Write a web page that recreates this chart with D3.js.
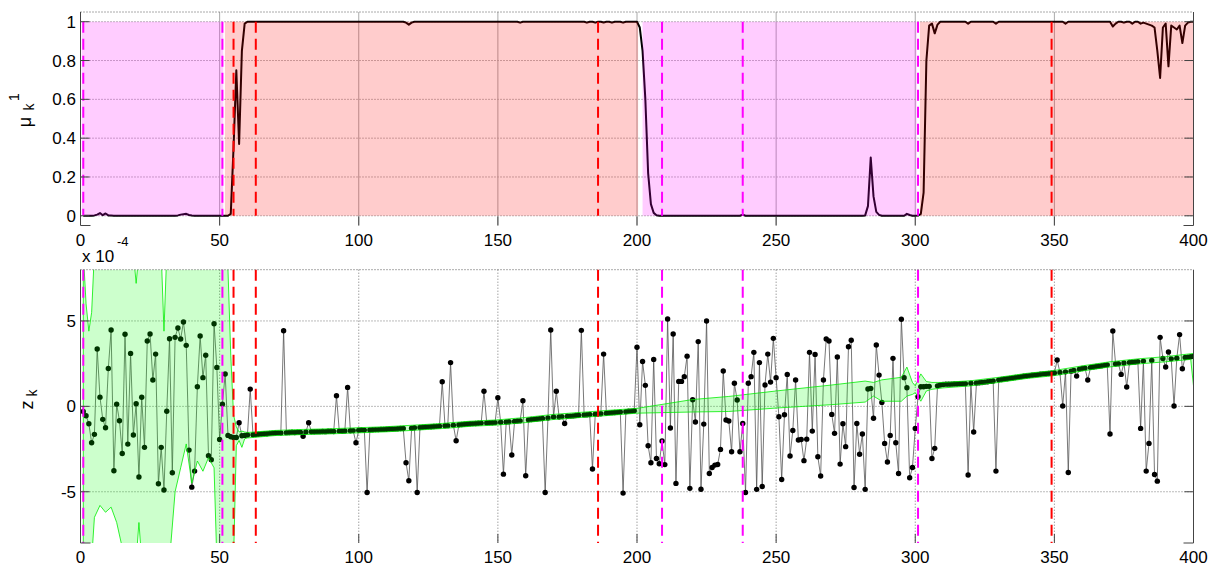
<!DOCTYPE html>
<html>
<head>
<meta charset="utf-8">
<script src="https://cdn.jsdelivr.net/npm/d3@7"></script>
<style>
  body { margin: 0; background: #fff; }
  text { font-family: "Liberation Sans", Arial, sans-serif; fill: #000; }
</style>
</head>
<body>
<svg id="chart" width="1211" height="568"></svg>
<script>
// ---- data -------------------------------------------------------------
const xTicks = [0, 50, 100, 150, 200, 250, 300, 350, 400];
const muTicks = [0, 0.2, 0.4, 0.6, 0.8, 1];
const zTicks = [-5, 0, 5];

// posterior probability of model 1, k = 1..400 (20 per row)
const mu = [
  0,0,0,0,0.002,0.006,0.014,0.003,0.012,0.002, 0.001,0,0,0,0,0,0,0,0,0,
  0,0,0,0,0,0,0,0,0,0, 0,0,0,0,0.002,0.006,0.008,0.01,0.004,0.001,
  0,0,0,0,0,0,0,0,0,0, 0,0,0,0.01,0.35,0.75,0.37,0.85,0.99,1,
  1,1,1,1,1,1,1,1,1,1, 1,1,1,1,1,1,1,1,1,1,
  1,1,1,1,1,1,1,1,1,1, 1,1,1,1,1,1,1,1,1,1,
  1,1,1,1,1,1,1,1,1,1, 1,1,1,1,1,1,0.995,0.985,0.995,1,
  1,1,1,1,1,1,1,1,1,1, 1,1,1,1,1,1,1,1,1,1,
  1,1,1,1,1,1,1,1,1,1, 1,1,1,1,1,1,1,0.995,1,1,
  1,1,1,1,1,1,1,1,1,1, 1,1,1,1,1,1,1,1,1,1,
  1,0.995,1,1,0.995,1,1,0.996,1,1, 0.995,1,1,1,0.995,1,1,1,1,1,
  0.97,0.85,0.6,0.22,0.06,0.015,0.003,0,0,0, 0,0,0,0,0,0,0,0,0,0,
  0,0,0,0,0,0,0,0,0,0, 0,0,0,0,0,0,0,0.006,0,0,
  0,0,0,0,0,0,0,0,0,0, 0,0,0,0,0,0,0,0,0,0,
  0,0,0,0,0,0,0,0,0,0, 0,0,0,0,0,0,0,0,0,0,
  0,0.002,0.05,0.30,0.10,0.02,0.005,0,0,0, 0,0,0,0,0,0,0.01,0.004,0,0,
  0.001,0.01,0.12,0.8,0.98,0.99,0.94,0.985,1,1, 1,1,1,1,1,1,1,1,0.99,1,
  1,1,1,1,1,1,1,1,0.99,1, 1,1,1,1,1,1,1,1,1,1,
  1,1,1,1,1,1,1,1,1,1, 1,1,1,0.99,1,1,1,1,1,1,
  1,1,1,1,1,1,1,1,1,1, 0.975,0.99,1,1,0.995,1,1,0.99,1,1,
  0.99,0.995,0.99,0.985,0.98,0.97,0.85,0.71,0.97,0.99, 0.77,0.98,0.97,0.96,0.98,0.89,0.98,0.995,1,1
];

// measurements z_k (units of 1e-4), k = 1..400
const zE4 = [
  -0.30,-0.55,-1.02,-2.13,-1.64, 3.36, 0.54,-0.76,-1.25, 2.22,
   4.47,-3.77, 0.13,-0.84,-2.76, 4.22,-2.21, 3.10,-1.68, 0.15,
  -4.14, 0.53,-2.40, 3.83, 4.24, 1.54, 3.06,-4.53,-2.40,-4.90,
  -0.29, 3.96,-3.89, 4.04, 4.59, 3.94, 4.94, 3.57,-2.56,-4.73,
  -3.79, 1.15, 4.12, 1.68, 2.99,-2.89,-3.13, 4.84, 2.28,-1.94,
   0.13, 1.89,-1.70,-1.78,-1.82,-1.82,-0.96,-1.72,-1.70,-1.68,
   1.01,-1.66,-1.65,-1.63,-1.62,-1.60,-1.60,-1.58,-1.57,-1.56,
  -1.55,-1.56, 4.43,-1.54,-1.53,-1.52,-1.53,-1.51,-1.52,-1.75,
  -1.50,-0.96,-1.49,-1.49,-1.48,-1.48,-1.47,-1.48,-1.46,-1.46,
  -1.47, 0.62,-1.45,-1.46,-1.44, 1.11,-1.43,-1.42,-2.13,-1.40,
  -1.38,-1.39,-5.04,-1.38,-1.37,-1.36,-1.36,-1.35,-1.35,-1.34,
  -1.33,-1.33,-1.32,-1.31,-1.30,-1.30,-3.30,-4.36,-1.28,-1.25,
  -5.04,-1.24,-1.22,-1.21,-1.20,-1.19,-1.18,-1.17,-1.16, 1.44,
  -1.14,-1.13, 2.56,-1.10,-2.01,-1.08,-1.06,-1.05,-1.03,-1.02,
  -1.01,-1.00,-0.99,-0.98, 0.88,-0.97,-0.96,-0.96,-0.95, 0.50,
  -0.93,-3.97,-0.92,-0.90,-2.85,-0.88,-0.86,-0.85, 0.33,-4.06,
  -0.79,-0.77,-0.76,-0.74,-0.72,-0.71,-5.04,-0.68, 4.47,-0.62,
   0.88,-0.62,-0.60,-1.00,-0.58,-0.57,-0.56,-0.54,-0.52, 4.45,
  -0.50,-0.49,-0.48,-3.67,-0.46,-0.44,-0.43, 3.06,-0.40,-0.38,
  -0.37,-0.36,-0.35,-0.33,-5.08,-0.31,-0.29,-0.28,-0.26, 3.46,
  -1.08, 2.63, 1.23,-2.31,-3.30, 2.75,-3.05,-3.36,-2.03,-3.41,
   5.11,-1.27, 4.24,-4.51, 1.46, 1.46, 1.74, 2.94,-4.80, 0.39,
  -0.92, 3.79,-4.85,-1.04, 5.00,-3.93,-3.58,-3.44,-3.40,-2.52,
   2.07,-0.80,-0.86,-2.66, 1.35, 0.37,-2.66,-1.00,-5.04, 1.35,
   1.74, 3.16,-4.86, 2.56,-4.69, 1.25, 3.06, 1.42, 3.98, 1.68,
  -0.61,-4.28,-0.49, 1.87,-2.91,-1.41, 1.54,-1.97,-1.94,-3.18,
  -1.92, 3.16,-1.45, 3.04,-2.95,-4.08, 1.54, 3.94, 3.83,-0.47,
  -1.58, 2.89,-3.38,-1.02,-2.36, 3.49, 3.87,-4.75,-1.00,-2.80,
  -1.62,-4.86, 1.02, 1.05,-0.70, 3.59, 1.83, 0.23,-2.17,-3.26,
  -1.70, 2.81,-2.13,-3.93, 5.10, 1.68, 1.09,-4.18,-3.58,-1.29,
   0.56, 1.15, 1.15, 1.17, 1.17,-3.05,-2.46, 1.20, 1.25, 1.28,
   1.30, 1.30, 1.30, 1.31, 1.31, 1.32, 1.33, 1.33,-4.02, 1.35,
  -1.50, 1.37, 1.38, 1.40, 1.42, 1.44, 1.46, 1.48,-3.79, 1.55,
   1.57, 1.60, 1.62, 1.64, 1.66, 1.69, 1.71, 1.74, 1.76, 1.78,
   1.80, 1.82, 1.84, 1.86, 1.88, 1.90, 1.91, 1.92, 1.94, 1.95,
   2.71, 1.98, 0.02, 2.02,-3.87, 2.06, 2.10, 1.77, 2.18, 2.22,
   2.24, 1.54, 2.28, 2.30, 2.33, 2.35, 2.38, 2.40, 2.43,-1.62,
   4.41, 2.48, 2.50, 1.87, 2.54, 1.13, 2.57, 2.58, 2.60, 2.62,
  -1.29, 2.65,-3.79,-2.17, 2.68,-3.99,-4.38, 4.04, 2.80, 2.30,
   3.18, 2.78, 0.02, 2.82, 4.20, 2.20, 2.86, 2.88, 2.90, 2.92
];

// predicted measurement band (units of 1e-4): outline vertices
const bandK  = [1, 2, 3, 4, 5, 7, 9, 11, 13, 16, 19, 20, 21, 22, 29, 30, 31, 32, 34, 36, 38, 40, 42, 44, 46, 48, 49, 52, 53, 54, 55, 56, 57, 58, 59, 60,
                70, 80, 90, 100, 110, 120, 130, 140, 150, 160, 170, 180, 190, 200,
                220, 233, 250, 270, 282, 285, 288, 295, 297, 299, 300, 302, 304, 306,
                310, 320, 330, 340, 350, 360, 370, 380, 390, 399, 400];
const bandLo = [-9, -9, -9, -9, -6.5, -5.8, -6.2, -5.9, -6.8, -9, -9, -9, -6.8, -9, -9, -9, -9, -9, -5, -3.6, -2.2, -4.5, -3.2, -3.8, -3.0, -3.6, -9, -9, -9, -9, -9, -2.3, -2.0, -2.4, -1.9, -1.85,
                -1.71, -1.65, -1.61, -1.55, -1.49, -1.40, -1.30, -1.17, -1.09, -0.95, -0.77, -0.65, -0.53, -0.40,
                -0.33, -0.30, -0.10, 0.10, 0.25, 0.60, 0.30, 0.30, 0.60, 0.70, 0.80, 0.30, 0.90, 1.00,
                1.08, 1.20, 1.40, 1.63, 1.80, 2.07, 2.31, 2.48, 2.61, 2.75, 1.20];
const bandHi = [9, 6, 4.4, 5.5, 9, 9, 9, 9, 9, 9, 9, 7.2, 9, 9, 9, 4.4, 9, 9, 9, 9, 9, 9, 9, 9, 9, 9, 9, 9, 8, 3, -0.5, -1.2, -1.5, -1.45, -1.5, -1.53,
                -1.41, -1.35, -1.31, -1.25, -1.19, -1.10, -1.00, -0.87, -0.79, -0.65, -0.47, -0.35, -0.23, -0.12,
                0.40, 0.58, 0.90, 1.25, 1.48, 1.40, 1.55, 1.70, 2.30, 1.40, 1.20, 1.90, 1.45, 1.40,
                1.40, 1.50, 1.70, 1.93, 2.10, 2.37, 2.61, 2.78, 2.91, 3.08, 3.10];

// active-model segments and switch markers
const segFrom = [0.5, 51.9, 202.0, 301.7];
const segTo   = [51.3, 200.4, 300.5, 400];
const segModel = [2, 1, 2, 1];
const model2Switches = [1, 51, 209, 238, 301];
const model1Switches = [55, 63, 186, 349];

// ---- drawing ----------------------------------------------------------
const svg = d3.select("#chart");
const modelColor = {1: "#ff0000", 2: "#ff00ff"};
const L = 80.5, R = 1193.5;
const top1 = 12, bot1 = 225.5;
const top2 = 269.7, bot2 = 543;

const x = d3.scaleLinear().domain([0, 400]).range([L, R]);
const yMu = d3.scaleLinear().domain([-0.05, 1.05]).range([bot1, top1]);
const yZ = d3.scaleLinear().domain([-8, 8]).range([bot2, top2]);

const ks = d3.range(1, 401);

function frame(g, yTop, yBot, ticksY, yScale, vSolid) {
  // grid
  g.append("g").selectAll("line").data(ticksY).join("line")
    .attr("x1", L).attr("x2", R)
    .attr("y1", d => yScale(d)).attr("y2", d => yScale(d))
    .attr("stroke", "#777").attr("stroke-width", 1).attr("stroke-dasharray", "1,2");
  g.append("g").selectAll("line").data(xTicks.slice(1, -1)).join("line")
    .attr("x1", d => x(d)).attr("x2", d => x(d))
    .attr("y1", yTop).attr("y2", yBot)
    .attr("stroke", vSolid ? "#aaa" : "#777").attr("stroke-width", 1)
    .attr("stroke-dasharray", vSolid ? null : "1,2");
}

function border(g, yTop, yBot, ticksY, yScale) {
  const c = "#444";
  g.append("line").attr("x1", L).attr("x2", R).attr("y1", yTop).attr("y2", yTop)
    .attr("stroke", "#555").attr("stroke-dasharray", "1,2");
  g.append("line").attr("x1", L).attr("x2", L).attr("y1", yTop).attr("y2", yBot).attr("stroke", c);
  g.append("line").attr("x1", R).attr("x2", R).attr("y1", yTop).attr("y2", yBot).attr("stroke", c);
  g.append("line").attr("x1", L).attr("x2", L + 10).attr("y1", yBot).attr("y2", yBot).attr("stroke", c);
  g.append("line").attr("x1", R - 10).attr("x2", R).attr("y1", yBot).attr("y2", yBot).attr("stroke", c);
  // inner ticks
  g.append("g").selectAll("line").data(xTicks.slice(1, -1)).join("line")
    .attr("x1", d => x(d)).attr("x2", d => x(d))
    .attr("y1", yBot - 9).attr("y2", yBot).attr("stroke", c);
  g.append("g").selectAll("line").data(ticksY).join("line")
    .attr("x1", L).attr("x2", L + 9)
    .attr("y1", d => yScale(d)).attr("y2", d => yScale(d)).attr("stroke", c);
  g.append("g").selectAll("line").data(ticksY).join("line")
    .attr("x1", R - 9).attr("x2", R)
    .attr("y1", d => yScale(d)).attr("y2", d => yScale(d)).attr("stroke", c);
}

function labels(g, yBot, ticksY, yScale, fmt) {
  g.append("g").selectAll("text").data(xTicks).join("text")
    .attr("x", d => x(d)).attr("y", yBot + 20)
    .attr("text-anchor", "middle").attr("font-size", 17).text(d => d);
  g.append("g").selectAll("text").data(ticksY).join("text")
    .attr("x", 76).attr("y", d => yScale(d) + 6)
    .attr("text-anchor", "end").attr("font-size", 17).text(fmt);
}

// ---- top panel: model probability ----
const g1 = svg.append("g");
frame(g1, top1, bot1, muTicks, yMu, true);

g1.append("path")
  .datum(ks)
  .attr("d", d3.line().x(k => x(k)).y(k => yMu(mu[k - 1])))
  .attr("fill", "none").attr("stroke", "#000").attr("stroke-width", 2)
  .attr("stroke-linejoin", "round");

g1.append("g").selectAll("rect").data(segFrom.map((f, i) => i)).join("rect")
  .attr("x", i => x(segFrom[i])).attr("width", i => x(segTo[i]) - x(segFrom[i]))
  .attr("y", yMu(1)).attr("height", yMu(0) - yMu(1))
  .attr("fill", i => modelColor[segModel[i]]).attr("fill-opacity", 0.2);

function switches(g, y1, y2) {
  const all = model2Switches.map(k => ({k, m: 2})).concat(model1Switches.map(k => ({k, m: 1})));
  g.append("g").selectAll("line").data(all).join("line")
    .attr("x1", d => x(d.k)).attr("x2", d => x(d.k))
    .attr("y1", y1).attr("y2", y2)
    .attr("stroke", d => modelColor[d.m]).attr("stroke-width", 2)
    .attr("stroke-dasharray", "11,6");
}
switches(g1, yMu(1), yMu(0));
border(g1, top1, bot1, muTicks, yMu);
labels(g1, bot1, muTicks, yMu, d => d);

// y label: mu_k^1
g1.append("text").attr("transform", "translate(31,122) rotate(-90)")
  .attr("text-anchor", "middle").attr("font-size", 18).text("μ");
g1.append("text").attr("transform", "translate(34,107) rotate(-90)")
  .attr("text-anchor", "middle").attr("font-size", 14).text("k");
g1.append("text").attr("transform", "translate(19,97) rotate(-90)")
  .attr("text-anchor", "middle").attr("font-size", 14).text("1");

// ---- bottom panel: measurements ----
const g2 = svg.append("g");
svg.append("defs").append("clipPath").attr("id", "clip2")
  .append("rect").attr("x", L).attr("y", top2).attr("width", R - L).attr("height", bot2 - top2);
frame(g2, top2, bot2, zTicks, yZ, false);

const inner = g2.append("g").attr("clip-path", "url(#clip2)");
inner.append("path")
  .datum(ks)
  .attr("d", d3.line().x(k => x(k)).y(k => yZ(zE4[k - 1])))
  .attr("fill", "none").attr("stroke", "#555").attr("stroke-width", 0.8);
inner.append("g").selectAll("circle").data(ks).join("circle")
  .attr("cx", k => x(k)).attr("cy", k => yZ(zE4[k - 1])).attr("r", 2.7)
  .attr("fill", "#000");
inner.append("path")
  .datum(bandK.map((k, i) => i))
  .attr("d", d3.area().x(i => x(bandK[i])).y0(i => yZ(bandLo[i])).y1(i => yZ(bandHi[i])))
  .attr("fill", "#00ff00").attr("fill-opacity", 0.2)
  .attr("stroke", "#00ee00").attr("stroke-width", 0.8);

switches(g2, top2, bot2);
border(g2, top2, bot2, zTicks, yZ);
labels(g2, bot2, zTicks, yZ, d => d);

// exponent for the z axis
g2.append("text").attr("x", 82).attr("y", 262).attr("font-size", 17).text("x 10");
g2.append("text").attr("x", 117).attr("y", 246).attr("font-size", 13).text("-4");

// y label: z_k
g2.append("text").attr("transform", "translate(33,405) rotate(-90)")
  .attr("text-anchor", "middle").attr("font-size", 18).text("z");
g2.append("text").attr("transform", "translate(37,393) rotate(-90)")
  .attr("text-anchor", "middle").attr("font-size", 14).text("k");
</script>
</body>
</html>
